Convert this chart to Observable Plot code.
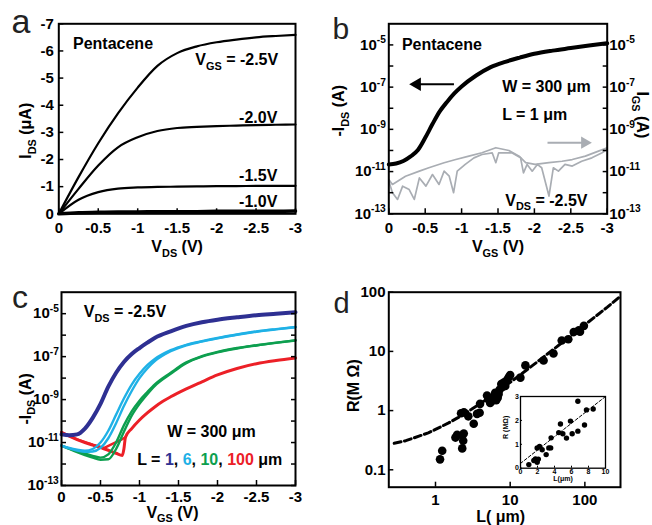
<!DOCTYPE html>
<html><head><meta charset="utf-8">
<script src="https://cdn.jsdelivr.net/npm/d3@7"></script>
<script src="https://cdn.jsdelivr.net/npm/@observablehq/plot@0.6"></script>
<style>
html,body{margin:0;padding:0;background:#fff;}
#root{position:relative;width:652px;height:525px;overflow:hidden;background:#fff;}
#root svg{position:absolute;}
</style></head><body><div id="root"></div>
<script>
// ================= DATA =================
// Panel a : output curves, I_DS (µA) vs V_DS (V)
const vdsA    = [0,-0.25,-0.5,-0.75,-1,-1.25,-1.5,-1.75,-2,-2.25,-2.5,-2.75,-3];
const idsA_25 = [0,-1.35,-2.6,-3.7,-4.65,-5.45,-5.92,-6.17,-6.32,-6.42,-6.5,-6.55,-6.59];
const idsA_20 = [0,-0.92,-1.78,-2.45,-2.82,-3.05,-3.16,-3.2,-3.23,-3.25,-3.27,-3.28,-3.29];
const idsA_15 = [0,-0.52,-0.8,-0.93,-0.97,-0.99,-1.0,-1.01,-1.02,-1.02,-1.03,-1.03,-1.03];
const idsA_10 = [0,-0.04,-0.06,-0.07,-0.07,-0.08,-0.08,-0.08,-0.09,-0.09,-0.09,-0.09,-0.1];
const xTicksV  = [0,-0.5,-1,-1.5,-2,-2.5,-3];
const yTicksA  = [0,-1,-2,-3,-4,-5,-6,-7];

// Panel b : transfer curve (log10 of -I_DS in A) and gate leakage (log10 of I_GS)
const vgsB    = [0,-0.1,-0.2,-0.3,-0.4,-0.5,-0.6,-0.7,-0.8,-0.9,-1.0,-1.2,-1.4,-1.6,-1.8,-2.0,-2.25,-2.5,-2.75,-3];
const idsLogB = [-10.66,-10.62,-10.5,-10.28,-9.98,-9.4,-8.75,-8.15,-7.7,-7.3,-6.97,-6.45,-6.05,-5.8,-5.6,-5.42,-5.27,-5.15,-5.03,-4.92];
const igsV1   = [0,-0.05,-0.23,-0.42,-0.55,-0.76,-0.92,-1.10,-1.28,-1.47,-1.65,-1.79,-1.88,-2.01,-2.20,-2.38,-2.52,-2.70,-2.88,-3.0];
const igsLog1 = [-11.37,-11.61,-11.22,-10.98,-10.82,-10.58,-10.43,-10.27,-10.11,-9.87,-10.0,-10.27,-10.58,-10.66,-10.58,-10.51,-10.43,-10.27,-10.03,-9.87];
const igsV2   = [0,-0.05,-0.12,-0.19,-0.28,-0.35,-0.42,-0.51,-0.60,-0.69,-0.76,-0.83,-0.89,-0.94,-1.05,-1.17,-1.28,-1.42,-1.47,-1.51,-1.69,-1.81,-1.85,-1.90,-1.97,-2.04,-2.10,-2.20,-2.26,-2.33,-2.42,-2.52,-2.65,-2.79,-2.93,-3.0];
const igsLog2 = [-11.45,-12.0,-12.32,-11.69,-11.85,-12.32,-11.3,-11.69,-11.14,-11.61,-10.98,-11.22,-12.0,-10.98,-10.66,-10.35,-10.19,-10.11,-10.58,-10.11,-10.11,-10.35,-11.06,-10.66,-10.98,-10.66,-10.82,-12.16,-10.82,-10.98,-10.66,-10.74,-10.51,-10.35,-10.11,-9.95];
const decadeTicks = [1e-13,1e-12,1e-11,1e-10,1e-9,1e-8,1e-7,1e-6,1e-5];
const decadeLabels = [1e-13,1e-11,1e-9,1e-7,1e-5];

// Panel c : transfer curves for several channel lengths (log10 of -I_DS)
const vgsC   = [0,-0.1,-0.2,-0.3,-0.4,-0.5,-0.6,-0.7,-0.8,-0.9,-1.0,-1.1,-1.2,-1.4,-1.6,-1.8,-2.0,-2.25,-2.5,-2.75,-3];
const logL1  = [-10.62,-10.66,-10.62,-10.35,-9.85,-9.2,-8.4,-7.75,-7.25,-6.88,-6.6,-6.35,-6.12,-5.82,-5.57,-5.4,-5.28,-5.17,-5.07,-5.0,-4.93];
const logL6a = [-11.14,-11.27,-11.37,-11.43,-11.42,-11.25,-10.8,-10.1,-9.3,-8.6,-8.0,-7.55,-7.2,-6.75,-6.47,-6.3,-6.15,-5.98,-5.84,-5.73,-5.63];
const logL6b = [-11.14,-11.25,-11.33,-11.38,-11.3,-11.0,-10.45,-9.7,-8.95,-8.3,-7.8,-7.4,-7.1,-6.7,-6.45,-6.28,-6.13,-5.97,-5.83,-5.72,-5.62];
const logL10a= [-11.14,-11.3,-11.45,-11.58,-11.7,-11.8,-11.78,-11.3,-10.5,-9.75,-9.2,-8.75,-8.35,-7.8,-7.3,-7.0,-6.8,-6.62,-6.48,-6.36,-6.25];
const logL10b= [-11.14,-11.28,-11.4,-11.52,-11.62,-11.7,-11.55,-11.0,-10.2,-9.55,-9.05,-8.65,-8.28,-7.75,-7.27,-6.98,-6.78,-6.6,-6.47,-6.35,-6.24];
const vgsL100a = [0,-0.1,-0.2,-0.3,-0.4,-0.5,-0.6,-0.7,-0.78,-0.8,-0.82,-0.9,-1.0,-1.1,-1.2,-1.3,-1.4,-1.6,-1.8,-2.0,-2.25,-2.5,-2.75,-3];
const logL100a = [-10.52,-10.7,-10.86,-11.0,-11.12,-11.24,-11.36,-11.5,-11.6,-11.3,-10.75,-10.35,-9.95,-9.62,-9.33,-9.08,-8.87,-8.5,-8.17,-7.85,-7.55,-7.33,-7.18,-7.06];
const vgsL100b = [0,-0.2,-0.4,-0.55,-0.62,-0.7,-0.76,-0.82];
const logL100b = [-10.52,-10.85,-11.1,-11.25,-11.12,-10.98,-10.88,-10.75];

// Panel d : resistance vs channel length
const Ld = [1.15,1.23,1.85,1.95,2.28,2.35,2.28,2.39,2.2,2.4,2.75,3.25,3.6,3.9,3.95,4.9,5.1,5.4,5.7,5.9,6.3,6.5,6.8,7.0,7.2,7.6,7.9,8.3,8.6,9.1,9.6,10.0,13.7,16,28,38,49,60,71,83,86,97];
const Rd = [0.15,0.21,0.35,0.39,0.38,0.31,0.23,0.41,0.90,0.94,0.80,0.60,0.88,0.92,1.30,1.80,1.55,1.35,1.45,1.70,2.00,1.50,1.65,1.90,2.25,2.80,2.50,3.00,2.60,3.30,3.70,4.0,3.6,5.8,7.0,9.2,15.3,16,21.2,22.7,21.5,27];
const fitL = [0.28,0.4,0.6,0.8,1,1.5,2,3,4,6,8,10,15,20,30,50,70,100,150,200,300];
const fitR = [0.28,0.31,0.37,0.42,0.48,0.62,0.76,1.04,1.32,1.88,2.44,3.0,4.4,5.8,8.6,14.2,19.8,28.2,42,56,86];
const xTicksD = [1,10,100];
const yTicksD = [0.1,1,10,100];
// Inset (linear axes)
const Li = [0.98,1.57,1.76,1.96,1.96,2.1,1.96,2.24,2.55,3.02,3.33,3.55,3.6,4.5,4.7,4.98,5.41,5.88,6.08,6.75,6.75,7.53,7.76,8.55];
const Ri = [0.15,0.32,0.39,0.32,0.25,0.38,0.85,0.91,0.77,0.57,0.85,0.85,1.27,1.49,1.85,1.44,1.26,1.97,1.44,1.55,2.8,1.81,2.44,2.48];
const fitLi = [0,10];
const fitRi = [0.2,3.0];
const xTicksI = [0,2,4,6,8,10];
const yTicksI = [0,1,2,3];

// ================= HELPERS =================
const FONT = '"Liberation Sans", Arial, Helvetica, sans-serif';
const st = fs => ({fontFamily: FONT, fontWeight: "bold", fontSize: fs + "px", color: "black", background: "transparent", overflow: "visible"});
const fmt = d => String(d);
const fmtLog = d => `10^{${Math.round(Math.log10(d))}}`;
const p10 = v => Math.pow(10, v);
const none = () => "";
const GRAY = "#a9adb3";
const C1 = "#2e3092", C6 = "#1fb1e6", C10 = "#0d9f4f", C100 = "#ec2027";
const MID = {textAnchor: "middle", lineAnchor: "middle"};
const root = document.getElementById("root");

// markup: _{sub}  ^{sup}  @#color{text}
function rich(svg) {
  svg.querySelectorAll("text").forEach(el => {
    const nodes = el.querySelector("tspan") ? [...el.querySelectorAll("tspan")] : [el];
    nodes.forEach(node => {
      const s = node.textContent;
      if (!/[_^]\{|@#/.test(s)) return;
      const fs = parseFloat(getComputedStyle(node).fontSize) || 15;
      node.textContent = "";
      const re = /([_^])\{([^}]*)\}|@(#[0-9a-fA-F]{3,6})\{([^}]*)\}|([^_^@]+)/g;
      let m, shift = 0;
      while ((m = re.exec(s))) {
        const t = document.createElementNS("http://www.w3.org/2000/svg", "tspan");
        let target = 0;
        if (m[1]) {
          target = m[1] === "_" ? 0.3 * fs : -0.42 * fs;
          t.setAttribute("font-size", (0.68 * fs).toFixed(2));
          t.textContent = m[2];
        } else if (m[3]) {
          t.setAttribute("fill", m[3]);
          t.textContent = m[4];
        } else t.textContent = m[5];
        if (target !== shift) { t.setAttribute("dy", (target - shift).toFixed(2)); shift = target; }
        node.appendChild(t);
      }
    });
  });
}
function place(svg, left, top) {
  svg.style.position = "absolute";
  svg.style.left = left + "px";
  svg.style.top = top + "px";
  root.appendChild(svg);
  rich(svg);
}

// ================= PANEL A =================
const pa = Plot.plot({
  width: 326, height: 260, marginLeft: 58.3, marginRight: 31, marginTop: 23.3, marginBottom: 46.7,
  style: st(15),
  x: {domain: [0, -3]}, y: {domain: [0, -7]},
  marks: [
    Plot.line(vdsA, {x: vdsA, y: idsA_10, curve: "monotone-x", strokeWidth: 3.5}),
    Plot.line(vdsA, {x: vdsA, y: idsA_15, curve: "monotone-x", strokeWidth: 2.2}),
    Plot.line(vdsA, {x: vdsA, y: idsA_20, curve: "monotone-x", strokeWidth: 2.2}),
    Plot.line(vdsA, {x: vdsA, y: idsA_25, curve: "monotone-x", strokeWidth: 2.2}),
    Plot.frame({strokeWidth: 2}),
    Plot.axisX(xTicksV, {tickSize: -5, tickFormat: none, strokeWidth: 1.5, label: null}),
    Plot.axisX(xTicksV, {tickSize: 0, tickPadding: 8.5, tickFormat: fmt, label: null}),
    Plot.axisY(yTicksA, {tickSize: -5, tickFormat: none, strokeWidth: 1.5, label: null}),
    Plot.axisY(yTicksA, {tickSize: 0, tickPadding: 5, tickFormat: fmt, label: null}),
    Plot.text(["Pentacene"], {x: -0.18, y: -6.27, textAnchor: "start", fontSize: 16}),
    Plot.text(["V_{GS} = -2.5V"], {x: -1.73, y: -5.67, textAnchor: "start", fontSize: 16}),
    Plot.text(["-2.0V"], {x: -2.77, y: -3.53, textAnchor: "end", fontSize: 16}),
    Plot.text(["-1.5V"], {x: -2.77, y: -1.38, textAnchor: "end", fontSize: 16}),
    Plot.text(["-1.0V"], {x: -2.77, y: -0.45, textAnchor: "end", fontSize: 16}),
    Plot.text(["V_{DS} (V)"], {...MID, frameAnchor: "bottom", dy: 33.4, fontSize: 16}),
    Plot.text(["I_{DS} (μA)"], {...MID, frameAnchor: "left", dx: -33, dy: 12, rotate: -90, fontSize: 16})
  ]
});
place(pa, 0, 0);

// ================= PANEL B =================
const pb = Plot.plot({
  width: 326, height: 260, marginLeft: 62.3, marginRight: 45.3, marginTop: 23.3, marginBottom: 46.7,
  style: st(15),
  x: {domain: [0, -3]}, y: {type: "log", domain: [1e-13, 1e-4]},
  marks: [
    Plot.line(igsV2, {x: igsV2, y: igsLog2.map(p10), stroke: GRAY, strokeWidth: 1.7}),
    Plot.line(igsV1, {x: igsV1, y: igsLog1.map(p10), stroke: GRAY, strokeWidth: 1.7}),
    Plot.line(vgsB, {x: vgsB, y: idsLogB.map(p10), curve: "monotone-x", strokeWidth: 4}),
    Plot.link([0], {x1: -0.895, x2: -0.36, y1: p10(-6.86), y2: p10(-6.86), stroke: "black", strokeWidth: 2}),
    Plot.dot([0], {x: -0.28, y: p10(-6.86), symbol: "triangle", r: 5, rotate: -90, fill: "black", dx: 7.8}),
    Plot.link([0], {x1: -2.18, x2: -2.7, y1: p10(-9.63), y2: p10(-9.63), stroke: GRAY, strokeWidth: 2}),
    Plot.dot([0], {x: -2.79, y: p10(-9.63), symbol: "triangle", r: 4.6, rotate: 90, fill: GRAY, dx: -7.2}),
    Plot.frame({strokeWidth: 2}),
    Plot.axisX(xTicksV, {tickSize: -5, tickFormat: none, strokeWidth: 1.5, label: null}),
    Plot.axisX(xTicksV, {tickSize: 0, tickPadding: 8.5, tickFormat: fmt, label: null}),
    Plot.axisY(decadeTicks, {anchor: "left", tickSize: -5, tickFormat: none, strokeWidth: 1.5, label: null}),
    Plot.axisY(decadeTicks, {anchor: "right", tickSize: -5, tickFormat: none, strokeWidth: 1.5, label: null}),
    Plot.axisY(decadeLabels, {anchor: "left", tickSize: 0, tickPadding: 3, tickFormat: fmtLog, label: null}),
    Plot.axisY(decadeLabels, {anchor: "right", tickSize: 0, tickPadding: 2, tickFormat: fmtLog, label: null}),
    Plot.text(["Pentacene"], {x: -0.18, y: p10(-4.98), textAnchor: "start", fontSize: 16}),
    Plot.text(["W = 300 μm"], {x: -1.557, y: p10(-7.0), textAnchor: "start", fontSize: 16}),
    Plot.text(["L = 1 μm"], {x: -1.557, y: p10(-8.3), textAnchor: "start", fontSize: 16}),
    Plot.text(["V_{DS} = -2.5V"], {x: -1.6, y: p10(-12.37), textAnchor: "start", fontSize: 16}),
    Plot.text(["V_{GS} (V)"], {...MID, frameAnchor: "bottom", dy: 33.4, fontSize: 16}),
    Plot.text(["-I_{DS} (A)"], {...MID, frameAnchor: "left", dx: -50, dy: -8, rotate: -90, fontSize: 16}),
    Plot.text(["I_{GS} (A)"], {...MID, frameAnchor: "right", dx: 35, dy: -4, rotate: 90, fontSize: 16})
  ]
});
place(pb, 326, 0);

// ================= PANEL C =================
const pc = Plot.plot({
  width: 326, height: 265, marginLeft: 61, marginRight: 31, marginTop: 31.7, marginBottom: 40,
  style: st(15),
  x: {domain: [0, -3]}, y: {type: "log", domain: [1e-13, 1e-4]},
  marks: [
    Plot.line(vgsL100b, {x: vgsL100b, y: logL100b.map(p10), stroke: C100, strokeWidth: 2.4}),
    Plot.line(vgsL100a, {x: vgsL100a, y: logL100a.map(p10), curve: "monotone-x", stroke: C100, strokeWidth: 3}),
    Plot.line(vgsC, {x: vgsC, y: logL10b.map(p10), curve: "monotone-x", stroke: C10, strokeWidth: 2.4}),
    Plot.line(vgsC, {x: vgsC, y: logL10a.map(p10), curve: "monotone-x", stroke: C10, strokeWidth: 2.4}),
    Plot.line(vgsC, {x: vgsC, y: logL6b.map(p10), curve: "monotone-x", stroke: C6, strokeWidth: 2.4}),
    Plot.line(vgsC, {x: vgsC, y: logL6a.map(p10), curve: "monotone-x", stroke: C6, strokeWidth: 2.4}),
    Plot.line(vgsC, {x: vgsC, y: logL1.map(p10), curve: "monotone-x", stroke: C1, strokeWidth: 4}),
    Plot.frame({strokeWidth: 2}),
    Plot.axisX(xTicksV, {tickSize: -5, tickFormat: none, strokeWidth: 1.5, label: null}),
    Plot.axisX(xTicksV, {tickSize: 0, tickPadding: 5.5, tickFormat: fmt, label: null}),
    Plot.axisY(decadeTicks, {anchor: "left", tickSize: -5, tickFormat: none, strokeWidth: 1.5, label: null}),
    Plot.axisY(decadeTicks, {anchor: "right", tickSize: -5, tickFormat: none, strokeWidth: 1.5, label: null}),
    Plot.axisY(decadeLabels, {anchor: "left", tickSize: 0, tickPadding: 2.7, tickFormat: fmtLog, label: null}),
    Plot.text(["V_{DS} = -2.5V"], {x: -0.286, y: p10(-4.93), textAnchor: "start", fontSize: 16}),
    Plot.text(["W = 300 μm"], {x: -1.355, y: p10(-10.52), textAnchor: "start", fontSize: 16}),
    Plot.text([`L = @${C1}{1}, @${C6}{6}, @${C10}{10}, @${C100}{100} μm`], {x: -0.97, y: p10(-11.8), textAnchor: "start", fontSize: 16}),
    Plot.text(["V_{GS} (V)"], {...MID, frameAnchor: "bottom", dx: -6, dy: 27, fontSize: 16}),
    Plot.text(["-I_{DS} (A)"], {...MID, frameAnchor: "left", dx: -36, dy: 10, rotate: -90, fontSize: 16})
  ]
});
place(pc, 0, 260);

// ================= PANEL D =================
const pd = Plot.plot({
  width: 326, height: 265, marginLeft: 62.3, marginRight: 32, marginTop: 31.7, marginBottom: 38.3,
  style: st(15),
  x: {type: "log", domain: [0.237, 300]}, y: {type: "log", domain: [0.0508, 100]},
  marks: [
    Plot.line(fitL, {x: fitL, y: fitR, strokeWidth: 3, strokeDasharray: "7,3.5"}),
    Plot.dot(Ld, {x: Ld, y: Rd, r: 4.3, fill: "black", stroke: "none"}),
    Plot.frame({strokeWidth: 2}),
    Plot.axisX(xTicksD, {tickSize: -5, tickFormat: none, strokeWidth: 1.5, label: null}),
    Plot.axisX(xTicksD, {tickSize: 0, tickPadding: 7.5, tickFormat: fmt, label: null}),
    Plot.axisY(yTicksD, {tickSize: -5, tickFormat: none, strokeWidth: 1.5, label: null}),
    Plot.axisY(yTicksD, {tickSize: 0, tickPadding: 3.3, tickFormat: fmt, label: null}),
    Plot.text(["L( μm)"], {...MID, frameAnchor: "bottom", dx: -4, dy: 29.5, fontSize: 16}),
    Plot.text(["R(M Ω)"], {...MID, frameAnchor: "left", dx: -35, dy: -4, rotate: -90, fontSize: 16})
  ]
});
place(pd, 326, 260);

// ---- inset ----
const pi = Plot.plot({
  width: 120, height: 100, marginLeft: 25, marginRight: 10, marginTop: 10, marginBottom: 18.3,
  style: st(7),
  x: {domain: [0, 10]}, y: {domain: [0, 3]},
  marks: [
    Plot.frame({fill: "white", stroke: "none"}),
    Plot.line(fitLi, {x: fitLi, y: fitRi, strokeWidth: 1, strokeDasharray: "3,2"}),
    Plot.dot(Li, {x: Li, y: Ri, r: 2.7, fill: "black", stroke: "none"}),
    Plot.frame({strokeWidth: 1.3}),
    Plot.axisX(xTicksI, {tickSize: -2, tickFormat: none, label: null}),
    Plot.axisX(xTicksI, {tickSize: 0, tickPadding: 1, tickFormat: fmt, label: null}),
    Plot.axisY(yTicksI, {tickSize: -2, tickFormat: none, label: null}),
    Plot.axisY(yTicksI, {tickSize: 0, tickPadding: 1.5, tickFormat: fmt, label: null}),
    Plot.text(["L(μm)"], {...MID, frameAnchor: "bottom", dy: 10.5, fontSize: 7}),
    Plot.text(["R (MΩ)"], {...MID, frameAnchor: "left", dx: -15, dy: -5, rotate: -90, fontSize: 7})
  ]
});
place(pi, 495, 386);

// ================= PANEL LETTERS =================
const letters = [
  {t: "a", x: 11.5, y: 33.3, s: 34},
  {t: "b", x: 332.5, y: 39, s: 30},
  {t: "c", x: 12, y: 308.3, s: 32},
  {t: "d", x: 333.5, y: 313.3, s: 29}
];
const ov = d3.create("svg").attr("width", 652).attr("height", 525)
  .style("left", "0px").style("top", "0px").style("pointer-events", "none");
ov.selectAll("text").data(letters).join("text")
  .attr("x", d => d.x).attr("y", d => d.y).attr("font-size", d => d.s)
  .attr("font-family", FONT).attr("fill", "#222").text(d => d.t);
root.appendChild(ov.node());
</script></body></html>
